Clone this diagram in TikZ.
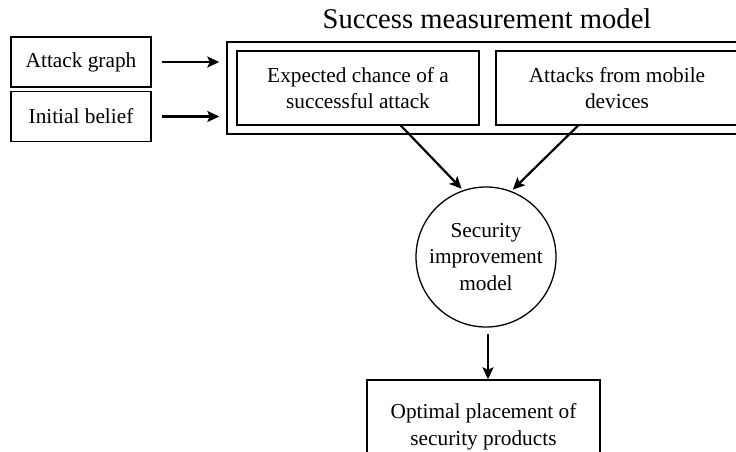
\documentclass[tikz,border=0pt]{standalone}
\usepackage{fontspec}
\setmainfont{Liberation Serif}
\usetikzlibrary{arrows.meta}
\begin{document}
\begin{tikzpicture}[x=1pt,y=-1pt,
  every node/.style={font=\fontsize{21.3}{26.8}\selectfont, align=center, inner sep=0pt},
  box/.style={draw, line width=1.4pt, rectangle},
  circ/.style={draw, line width=1.3pt, circle, minimum size=140pt},
  arr/.style={line width=2.2pt, -{Stealth[length=12pt,width=11pt,inset=2.5pt]}}]
  \clip (0,0) rectangle (736,451);
  \useasboundingbox (0,0) rectangle (736,451);

  % inputs
  \node[box, minimum width=140pt, minimum height=50pt] (ag) at (81,62) {Attack graph};
  \node[box, minimum width=140pt, minimum height=50pt] (ib) at (81,116.5) {Initial belief};

  % success measurement model
  \node[font=\fontsize{28.6}{34}\selectfont, anchor=base] (title) at (487,28) {Success measurement model};
  \node[box, minimum width=520pt, minimum height=92pt] (outer) at (487,88) {};
  \node[box, minimum width=242pt, minimum height=74pt] (e1) at (358,88) {Expected chance of a\\successful attack};
  \node[box, minimum width=242pt, minimum height=74pt] (e2) at (617,88) {Attacks from mobile\\devices};

  % improvement model and result
  \node[circ] (sim) at (486,257) {Security\\improvement\\model};
  \node[box, minimum width=233pt, minimum height=94pt] (opt) at (483.5,427) {Optimal placement of\\security products};

  % connectors
  \draw[arr, shorten <=10pt, shorten >=7pt] (ag.east) -- (ag.east -| outer.west);
  \draw[arr, shorten <=10pt, shorten >=7pt] (ib.east) -- (ib.east -| outer.west);
  \draw[arr, shorten >=2pt] ([xshift=42pt,yshift=1pt]e1.south) -- (sim.109);
  \draw[arr, shorten >=2pt] ([xshift=-38pt,yshift=1pt]e2.south) -- (sim.69);
  \draw[arr, shorten <=6pt] ([xshift=2pt]sim.south) -- ([xshift=2pt]sim.south |- opt.north);
\end{tikzpicture}
\end{document}
